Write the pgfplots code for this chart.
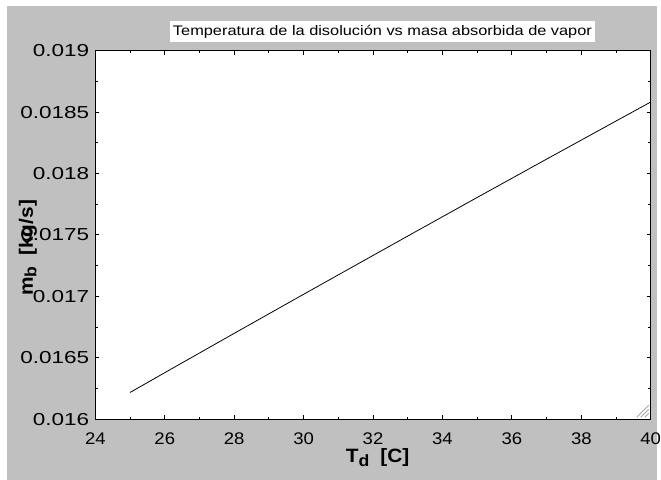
\documentclass[border=0pt]{standalone}
\usepackage{pgfplots}
\pgfplotsset{compat=1.18}
\usepackage{fontspec}
\setmainfont{Liberation Sans}
\newfontfamily\tickfont[FakeStretch=1.18]{Liberation Sans}
\newfontfamily\xtickfont[FakeStretch=1.1]{Liberation Sans}
\newfontfamily\ytickfont[FakeStretch=1.3]{Liberation Sans}
\newfontfamily\labfont[FakeStretch=1.08]{Liberation Sans}
\definecolor{bggray}{HTML}{C0C0C0}
\begin{document}
\begin{tikzpicture}[x=1bp,y=1bp]
% window background
\fill[white] (0,0) rectangle (661,483);
\fill[bggray] (7,0) rectangle (661,477);
\begin{axis}[
  at={(96bp,61bp)}, anchor=south west,
  width=559bp, height=371bp, scale only axis,
  xmin=24, xmax=40, ymin=0.016, ymax=0.019,
  axis background/.style={fill=white},
  axis line style={black, line width=1bp},
  xtick={24,26,...,40},
  xticklabels={24,26,28,30,32,34,36,38,40},
  ytick={0.016,0.0165,0.017,0.0175,0.018,0.0185,0.019},
  yticklabels={0.016,0.0165,0.017,0.0175,0.018,0.0185,0.019},
  scaled y ticks=false,
  minor x tick num=1, minor y tick num=1,
  tick align=inside,
  major tick length=4bp, minor tick length=2.5bp,
  tick style={black, line width=0.9bp},
  xticklabel style={font=\xtickfont\fontsize{17}{17}\selectfont, inner sep=0pt, yshift=-13bp},
  yticklabel style={font=\ytickfont\fontsize{17.5}{17.5}\selectfont, inner sep=0pt, xshift=-6bp},
  /pgf/number format/assume math mode=true,
  clip=true,
]
\addplot[black, line width=0.8bp] coordinates {
  (25,0.016218) (26,0.016379) (27,0.016539) (28,0.016699)
  (29,0.016858) (30,0.017017) (31,0.017175) (32,0.017333)
  (33,0.017491) (34,0.017648) (35,0.017805) (36,0.017961)
  (37,0.018117) (38,0.018272) (39,0.018427) (40,0.018582)
};
\end{axis}
% title
\node[fill=white, inner xsep=3bp, inner ysep=0pt, minimum height=21bp, font=\tickfont\fontsize{14}{14}\selectfont] at (385,451) {Temperatura de la disolución vs masa absorbida de vapor};
% axis labels
\node[anchor=base west, inner sep=0pt, font=\labfont\bfseries\fontsize{19.5}{19.5}\selectfont] at (348,17)
  {T\raisebox{-3.5bp}{\fontsize{16.5}{16.5}\selectfont d}\hspace{11bp}[C]};
\node[anchor=base, rotate=90, inner sep=0pt, font=\labfont\bfseries\fontsize{19.5}{19.5}\selectfont] at (33,233.5)
  {m\raisebox{-3.5bp}{\fontsize{16.5}{16.5}\selectfont b}\hspace{11bp}[kg/s]};
% resize grip
\draw[gray!70, line width=0.8bp] (641,63) -- (653,75) (645,63) -- (653,71) (649,63) -- (653,67);
\end{tikzpicture}
\end{document}
